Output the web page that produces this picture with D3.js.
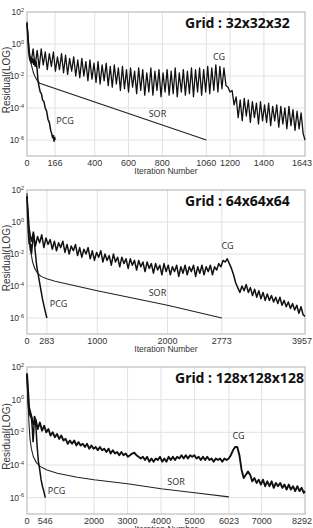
<!DOCTYPE html>
<html>
<head>
<meta charset="utf-8">
<script src="https://cdn.jsdelivr.net/npm/d3@7"></script>
<style>
  body { margin: 0; background: #fff; }
  text { font-family: "Liberation Sans", Arial, sans-serif; fill: #333; }
  .grid-title { font-family: "Noto Sans", sans-serif; font-weight: bold; fill: #111; }
  .curve-label { font-family: "Noto Sans", sans-serif; fill: #333; }
</style>
</head>
<body>
<svg id="chart"></svg>
<script>
//
// Residual (log10) vs iteration, three grid sizes
// values below are log10 of the residual
//

const gridNames = ['Grid : 32x32x32', 'Grid : 64x64x64', 'Grid : 128x128x128'];
const iterMax = [1643, 3957, 8292];
const xTicks32 = [0, 166, 400, 600, 800, 1060, 1200, 1400, 1643];
const xTicks64 = [0, 283, 1000, 2000, 2773, 3957];
const xTicks128 = [0, 546, 2000, 3000, 4000, 5000, 6023, 7000, 8292];
const yTickExp = [2, 0, -2, -4, -6];
const yMinExp = -7;
const yMaxExp = 2;

// CG: sampled every cgStep iterations
const cgStep32 = 12;
const cg32 = [
  1.3, -0.5, -1.2, -0.3, -1.4, -0.4, -1.5, -0.3, -1.3, -0.5,
  -1.6, -0.6, -1.4, -0.5, -1.7, -0.8, -1.6, -0.6, -1.8, -0.7,
  -1.9, -0.9, -1.7, -0.8, -2.0, -1.0, -2.1, -0.9, -2.0, -1.1,
  -2.3, -1.0, -2.2, -1.2, -2.4, -1.1, -2.5, -1.3, -2.3, -1.2,
  -2.6, -1.4, -2.7, -1.3, -2.5, -1.5, -2.9, -1.4, -2.8, -1.6,
  -3.0, -1.5, -2.7, -1.7, -3.1, -1.5, -2.9, -1.6, -3.2, -1.8,
  -3.0, -1.5, -3.2, -1.7, -2.9, -1.6, -3.3, -1.8, -3.0, -1.6,
  -3.2, -1.7, -3.1, -1.5, -3.3, -1.8, -3.0, -1.6, -3.2, -1.7,
  -3.1, -1.5, -3.3, -1.6, -3.0, -1.5, -3.2, -1.6, -3.0, -1.4,
  -3.1, -1.5, -2.9, -1.3, -3.0, -1.4, -2.8, -1.5, -2.6, -2.7,
  -3.0, -2.9, -3.8, -3.3, -4.6, -3.5, -4.8, -3.4, -4.5, -3.5,
  -4.9, -3.6, -4.6, -3.7, -5.0, -3.6, -4.8, -3.8, -4.9, -3.7,
  -5.1, -3.9, -4.8, -3.8, -5.2, -3.9, -5.0, -4.0, -5.3, -3.9,
  -5.1, -4.1, -5.4, -4.2, -5.3, -4.3, -5.6, -6.0
];
const sor32 = [[0, 1.4], [8, 0.3], [16, -0.6], [26, -1.3], [38, -1.8], [50, -2.1], [62, -2.3], [75, -2.45], [1060, -6.0]];
const pcg32 = [
  [0, 1.3], [5, 0.3], [10, -0.5], [15, -0.9], [20, -1.1], [25, -0.8], [30, -1.2], [35, -0.9],
  [40, -1.3], [45, -1.0], [50, -1.3], [55, -1.2], [60, -1.6], [65, -2.3], [70, -2.6], [78, -3.0],
  [85, -3.1], [92, -3.5], [100, -3.6], [108, -4.0], [116, -4.2], [124, -4.7], [132, -4.9],
  [140, -5.4], [146, -5.6], [152, -5.9], [156, -5.7], [160, -6.1], [163, -5.8], [166, -6.0]
];

const cgStep64 = 30;
const cg64 = [
  1.6, -0.4, -1.2, -0.7, -1.5, -0.9, -1.3, -0.8, -1.6, -1.0,
  -1.4, -1.1, -1.7, -1.2, -1.8, -1.3, -1.6, -1.2, -1.9, -1.4,
  -2.0, -1.5, -1.8, -1.4, -2.1, -1.6, -2.2, -1.7, -2.0, -1.6,
  -2.3, -1.8, -2.4, -1.9, -2.2, -1.8, -2.5, -2.0, -2.4, -2.1,
  -2.7, -2.0, -2.5, -2.2, -2.8, -2.2, -2.6, -2.3, -2.9, -2.3,
  -2.7, -2.4, -3.0, -2.4, -2.8, -2.5, -3.1, -2.5, -2.9, -2.6,
  -3.2, -2.6, -3.0, -2.7, -3.3, -2.6, -3.1, -2.7, -3.3, -2.8,
  -3.1, -2.7, -3.4, -2.8, -3.2, -2.7, -3.3, -2.8, -3.1, -2.7,
  -3.4, -2.8, -3.2, -2.7, -3.3, -2.8, -3.1, -2.7, -3.3, -2.8,
  -3.0, -2.6, -2.8, -2.4, -2.5, -2.3, -2.6, -2.9, -3.3, -3.8,
  -4.1, -4.4, -4.0, -4.3, -3.9, -4.4, -4.1, -4.6, -4.2, -4.7,
  -4.3, -4.8, -4.4, -4.9, -4.5, -4.9, -4.6, -5.0, -4.7, -5.1,
  -4.7, -5.2, -4.9, -5.3, -5.0, -5.4, -5.1, -5.5, -5.2, -5.7,
  -5.3, -5.8, -5.9
];
const sor64 = [
  [0, 1.8], [10, 0.8], [20, -0.1], [35, -1.1], [55, -1.9], [80, -2.5], [110, -2.9], [150, -3.2],
  [200, -3.4], [280, -3.55], [400, -3.7], [1000, -4.3], [2000, -5.2], [2773, -6.0]
];
const pcg64 = [
  [0, 1.6], [8, 0.4], [16, -0.4], [24, -1.0], [32, -1.4], [40, -1.2], [48, -1.8], [56, -1.4],
  [64, -2.0], [72, -1.6], [80, -1.3], [90, -0.6], [100, -0.9], [110, -1.5], [125, -2.2],
  [140, -2.8], [160, -3.3], [180, -3.8], [200, -4.3], [220, -4.8], [240, -5.2], [260, -5.6], [283, -6.0]
];

const cgStep128 = 64;
const cg128 = [
  1.6, -0.5, -1.0, -1.5, -1.2, -1.8, -1.4, -1.9, -1.6, -2.0,
  -1.8, -2.2, -2.0, -2.3, -2.1, -2.4, -2.2, -2.5, -2.4, -2.7,
  -2.5, -2.7, -2.5, -2.8, -2.6, -2.8, -2.7, -2.9, -2.7, -3.0,
  -2.8, -3.0, -2.9, -3.1, -2.9, -3.1, -3.0, -3.2, -3.0, -3.3,
  -3.1, -3.3, -3.2, -3.4, -3.2, -3.4, -3.3, -3.5, -3.4, -3.3,
  -3.25, -3.4, -3.5, -3.6, -3.5, -3.7, -3.5, -3.8, -3.6, -3.8,
  -3.6, -3.7, -3.5, -3.8, -3.6, -3.8, -3.5, -3.7, -3.5, -3.7,
  -3.5, -3.6, -3.4, -3.6, -3.4, -3.6, -3.4, -3.5, -3.4, -3.6,
  -3.5, -3.7, -3.5, -3.7, -3.5, -3.7, -3.6, -3.8, -3.6, -3.7,
  -3.6, -3.8, -3.6, -3.7, -3.6, -3.4, -3.1, -2.9, -2.9, -3.4,
  -4.3, -4.8, -4.6, -4.4, -4.6, -5.0, -4.8, -5.1, -4.9, -5.2,
  -4.9, -5.3, -5.0, -5.3, -5.0, -5.4, -5.1, -5.3, -5.1, -5.4,
  -5.2, -5.5, -5.2, -5.5, -5.3, -5.6, -5.3, -5.6, -5.4, -5.7,
  -5.6
];
const sor128 = [
  [0, 1.6], [20, 0.5], [40, -0.6], [60, -1.5], [90, -2.4], [130, -3.0], [190, -3.5], [280, -3.85],
  [400, -4.1], [600, -4.3], [900, -4.5], [1500, -4.75], [2000, -4.9], [3000, -5.15], [4000, -5.45],
  [5000, -5.7], [6023, -5.95]
];
const pcg128 = [
  [0, 1.5], [20, 0.5], [40, -0.3], [60, -0.7], [80, -0.9], [100, -1.0], [120, -0.9], [140, -1.3],
  [160, -1.8], [180, -2.6], [200, -2.0], [220, -1.0], [240, -1.1], [270, -1.8], [300, -2.8],
  [340, -3.8], [380, -4.3], [420, -4.9], [460, -5.3], [500, -5.6], [546, -6.0]
];

// curve label anchors, [iteration, log10 residual]
const labels32 = { CG: [1135, -1.0], SOR: [771, -4.56], PCG: [225, -5.0] };
const labels64 = { CG: [2854, -1.69], SOR: [1857, -4.63], PCG: [448, -5.31] };
const labels128 = { CG: [6309, -2.41], SOR: [4444, -5.23], PCG: [880, -5.78] };

// layout
const width = 313;
const height = 528;
const plotLeft = 27;
const plotRight = 305;
const panelTop = [12, 190, 367];
const panelHeight = [144, 144, 147];
const titleX = [185, 185, 175];
const cgWidth = [1.3, 1.5, 1.9];

const svg = d3.select('#chart')
  .attr('width', width)
  .attr('height', height)
  .attr('viewBox', [0, 0, width, height]);

const sampled = (vals, step, xmax) => vals.map((v, i) => [Math.min(i * step, xmax), v]);

const drawPanel = (k, { cg, sor, pcg, xTicks, labels }) => {
  const top = panelTop[k];
  const bottom = top + panelHeight[k];

  const x = d3.scaleLinear([0, iterMax[k]], [plotLeft, plotRight]);
  const y = d3.scaleLog([Math.pow(10, yMinExp), Math.pow(10, yMaxExp)], [bottom, top]);

  const g = svg.append('g');

  // Grid lines
  g.append('g')
    .selectAll('line')
    .data(xTicks.filter(t => t > 0 && t < iterMax[k]))
    .join('line')
      .attr('x1', d => x(d)).attr('x2', d => x(d))
      .attr('y1', top).attr('y2', bottom)
      .attr('stroke', '#e2e2e2')
      .attr('stroke-width', 1);

  g.append('g')
    .selectAll('line')
    .data(yTickExp.filter(e => e < yMaxExp))
    .join('line')
      .attr('x1', plotLeft).attr('x2', plotRight)
      .attr('y1', e => y(Math.pow(10, e))).attr('y2', e => y(Math.pow(10, e)))
      .attr('stroke', '#e2e2e2')
      .attr('stroke-width', 1);

  // Frame
  g.append('rect')
    .attr('x', plotLeft)
    .attr('y', top)
    .attr('width', plotRight - plotLeft)
    .attr('height', bottom - top)
    .attr('fill', 'none')
    .attr('stroke', '#b0b0b0')
    .attr('stroke-width', 1);

  // Curves
  const line = d3.line()
    .x(d => x(d[0]))
    .y(d => y(Math.pow(10, d[1])));

  g.append('path')
    .datum(sor)
    .attr('d', line)
    .attr('fill', 'none')
    .attr('stroke', '#222')
    .attr('stroke-width', 1.1);

  g.append('path')
    .datum(cg)
    .attr('d', line)
    .attr('fill', 'none')
    .attr('stroke', '#111')
    .attr('stroke-width', cgWidth[k])
    .attr('stroke-linejoin', 'round');

  g.append('path')
    .datum(pcg)
    .attr('d', line)
    .attr('fill', 'none')
    .attr('stroke', '#111')
    .attr('stroke-width', 1.5);

  // X tick labels (last one pushed in so it stays on the page)
  g.append('g')
    .selectAll('text')
    .data(xTicks)
    .join('text')
      .attr('x', (d, i) => i === xTicks.length - 1 ? width - 1 : x(d))
      .attr('y', bottom + 9.5)
      .attr('text-anchor', (d, i) => i === xTicks.length - 1 ? 'end' : 'middle')
      .attr('font-size', 9)
      .text(d => d);

  // Y tick labels, 10 with superscript exponent
  const yt = g.append('g')
    .selectAll('text')
    .data(yTickExp)
    .join('text')
      .attr('x', plotLeft - 3)
      .attr('y', e => y(Math.pow(10, e)) + 3)
      .attr('text-anchor', 'end')
      .attr('font-size', 8.5);
  yt.append('tspan').text('10');
  yt.append('tspan')
    .attr('dy', -3.5)
    .attr('font-size', 5.5)
    .text(e => e);

  // Axis titles
  g.append('text')
    .attr('x', (plotLeft + plotRight) / 2)
    .attr('y', bottom + 18)
    .attr('text-anchor', 'middle')
    .attr('font-size', 8.5)
    .attr('fill', '#444')
    .text('Iteration Number');

  g.append('text')
    .attr('transform', `translate(10,${(top + bottom) / 2 - 4}) rotate(-90)`)
    .attr('text-anchor', 'middle')
    .attr('font-size', 10)
    .attr('fill', '#444')
    .text('Residual(LOG)');

  // Grid size title
  g.append('text')
    .attr('class', 'grid-title')
    .attr('x', titleX[k])
    .attr('y', top + 16)
    .attr('font-size', 14)
    .text(gridNames[k]);

  // Curve labels
  g.append('g')
    .selectAll('text')
    .data(Object.entries(labels))
    .join('text')
      .attr('class', 'curve-label')
      .attr('x', d => x(d[1][0]))
      .attr('y', d => y(Math.pow(10, d[1][1])))
      .attr('text-anchor', 'middle')
      .attr('font-size', 9)
      .text(d => d[0]);
};

drawPanel(0, { cg: sampled(cg32, cgStep32, iterMax[0]), sor: sor32, pcg: pcg32, xTicks: xTicks32, labels: labels32 });
drawPanel(1, { cg: sampled(cg64, cgStep64, iterMax[1]), sor: sor64, pcg: pcg64, xTicks: xTicks64, labels: labels64 });
drawPanel(2, { cg: sampled(cg128, cgStep128, iterMax[2]), sor: sor128, pcg: pcg128, xTicks: xTicks128, labels: labels128 });
</script>
</body>
</html>
